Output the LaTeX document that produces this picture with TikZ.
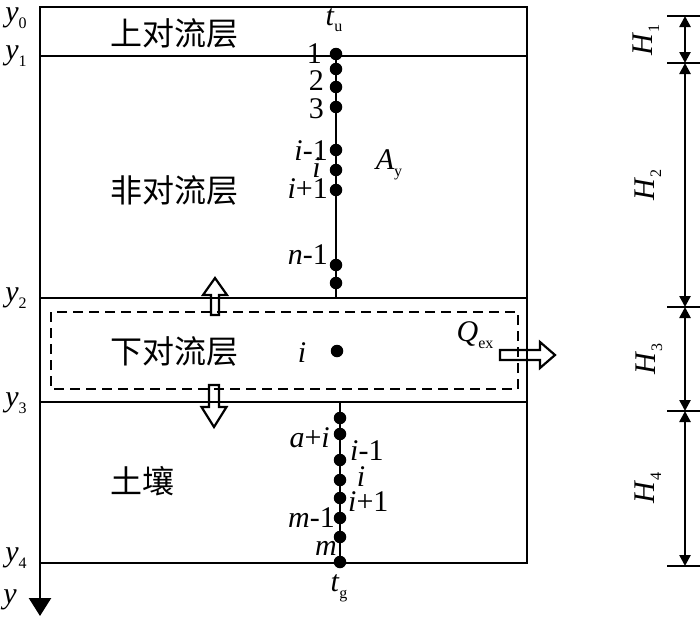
\documentclass[tikz,border=0pt]{standalone}
\usepackage{fontspec}
\setmainfont{Liberation Serif}
\newfontfamily\cjk{Noto Sans CJK SC}
\usetikzlibrary{arrows.meta}
\newcommand\lsub[1]{\raisebox{-0.22em}{\fontsize{16}{16}\selectfont #1}}
\begin{document}
\begin{tikzpicture}[x=1pt,y=-1pt,
  lab/.style={inner sep=0pt, font=\fontsize{30}{30}\selectfont},
  zh/.style={inner sep=0pt, font=\fontsize{32}{32}\selectfont\cjk},
  dot/.style={circle, fill, minimum size=12.5pt, inner sep=0pt},
  frame/.style={line width=2.5pt},
  chain/.style={line width=2.2pt},
  hollow/.style={line width=2.2pt, line join=miter},
  dim/.style={line width=2.5pt, {Triangle[length=11pt,width=11pt]}-{Triangle[length=11pt,width=11pt]}},
  tick/.style={line width=2.5pt}]
\useasboundingbox (0,0) rectangle (700,616);

% frame
\draw[frame] (40,7) rectangle (527,563);
\draw[frame] (40,56) -- (527,56);
\draw[frame] (40,298) -- (527,298);
\draw[frame] (40,402) -- (527,402);
% y axis
\coordinate (ax0) at (40,560);
\coordinate (ax1) at (40,616);
\draw[line width=2.5pt, -{Triangle[length=18pt,width=22pt]}] (ax0) -- (ax1);

% dashed box
\draw[line width=2pt, dash pattern=on 10pt off 6pt] (51,312) rectangle (518,389);

% y labels
\node[lab] (y0) at (16,18) {\textit{y}\lsub{0}};
\node[lab] (y1) at (16,56) {\textit{y}\lsub{1}};
\node[lab] (y2) at (16,298) {\textit{y}\lsub{2}};
\node[lab] (y3) at (16,403) {\textit{y}\lsub{3}};
\node[lab] (y4) at (16,558) {\textit{y}\lsub{4}};
\node[lab] (yy) at (10,600) {\textit{y}};

% layer names
\node[zh] (L1) at (174,33) {上对流层};
\node[zh] (L2) at (174,190) {非对流层};
\node[zh] (L3) at (174,351) {下对流层};
\node[zh] (L4) at (142,481) {土壤};

% upper chain
\coordinate (ubot) at (336,298);
\node[dot] (u1) at (336,54) {};
\node[dot] (u2) at (336,69) {};
\node[dot] (u3) at (336,87) {};
\node[dot] (u4) at (336,107) {};
\node[dot] (u5) at (336,150) {};
\node[dot] (u6) at (336,170) {};
\node[dot] (u7) at (336,190) {};
\node[dot] (u8) at (336,265) {};
\node[dot] (u9) at (336,283) {};
\draw[chain] (u1.center) -- (ubot);

\node[lab] (tu) at (334,20) {\textit{t}\lsub{u}};
\node[lab, anchor=east] (n1) at (322,54) {1};
\node[lab, anchor=east] (n2) at (324,81) {2};
\node[lab, anchor=east] (n3) at (324,109) {3};
\node[lab, anchor=east] (ni1) at (328,151) {\textit{i}-1};
\node[lab, anchor=east] (ni) at (321,168) {\textit{i}};
\node[lab, anchor=east] (nip) at (328,189) {\textit{i}+1};
\node[lab, anchor=east] (nn1) at (328,255) {\textit{n}-1};
\node[lab] (Ay) at (389,165) {\textit{A}\lsub{y}};

% middle node
\node[dot] (mid) at (337,351) {};
\node[lab] (mi) at (302,353) {\textit{i}};
\node[lab] (Qex) at (475,335) {\textit{Q}\lsub{ex}};

% lower chain
\coordinate (ltop) at (340,402);
\node[dot] (l1) at (340,418) {};
\node[dot] (l2) at (340,434) {};
\node[dot] (l3) at (340,460) {};
\node[dot] (l4) at (340,480) {};
\node[dot] (l5) at (340,498) {};
\node[dot] (l6) at (340,518) {};
\node[dot] (l7) at (340,537) {};
\node[dot] (l8) at (340,562) {};
\draw[chain] (ltop) -- (l8.center);

\node[lab, anchor=east] (ai) at (330,438) {\textit{a}+\textit{i}};
\node[lab, anchor=west] (li1) at (350,451) {\textit{i}-1};
\node[lab] (li) at (361,477) {\textit{i}};
\node[lab, anchor=west] (lip) at (348,502) {\textit{i}+1};
\node[lab, anchor=east] (lm1) at (335,518) {\textit{m}-1};
\node[lab, anchor=east] (lm) at (337,548) {\textit{m}};
\node[lab] (tg) at (339,588) {\textit{t}\lsub{g}};

% hollow arrows
\draw[hollow] (215,278) -- (227,295) -- (219,295) -- (219,315) -- (211,315) -- (211,295) -- (203,295) -- cycle;
\draw[hollow] (214,427) -- (226.5,407) -- (219,407) -- (219,385) -- (209,385) -- (209,407) -- (201.5,407) -- cycle;
\draw[hollow] (555,355) -- (540,342) -- (540,350) -- (500,350) -- (500,360) -- (540,360) -- (540,368) -- cycle;

% dimensions
\coordinate (h0) at (685,16);
\coordinate (h1) at (685,63);
\coordinate (h2) at (685,307);
\coordinate (h3) at (685,411);
\coordinate (h4) at (685,566);
\foreach \c in {h0,h1,h2,h3,h4} \draw[tick] ([xshift=-18pt]\c) -- ([xshift=15pt]\c);
\draw[dim] (h0) -- (h1);
\draw[dim] (h1) -- (h2);
\draw[dim] (h2) -- (h3);
\draw[dim] (h3) -- (h4);
\node[lab, rotate=90] (H1) at (646,40) {\textit{H}\lsub{1}};
\node[lab, rotate=90] (H2) at (648,185) {\textit{H}\lsub{2}};
\node[lab, rotate=90] (H3) at (649,359) {\textit{H}\lsub{3}};
\node[lab, rotate=90] (H4) at (648,488) {\textit{H}\lsub{4}};
\end{tikzpicture}
\end{document}
